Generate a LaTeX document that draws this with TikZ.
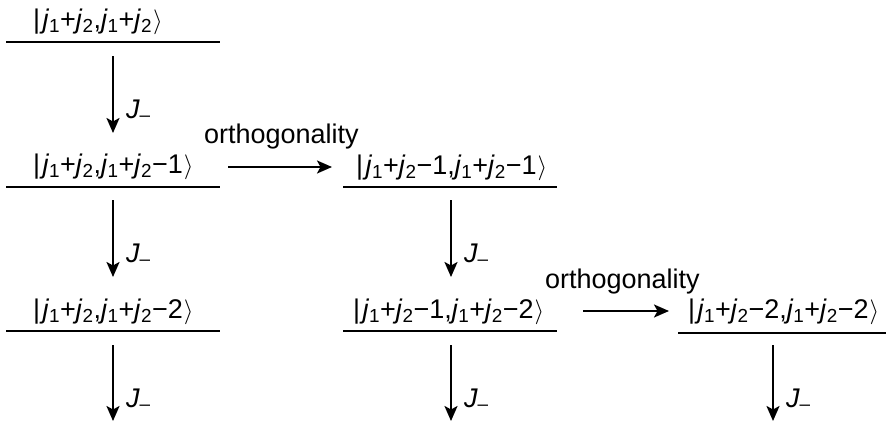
\documentclass[tikz,border=0pt]{standalone}
\usepackage{fontspec}
\setmainfont{Liberation Sans}
\usetikzlibrary{arrows.meta}
\newcommand{\jj}[1]{\textit{j}\textsubscript{#1}}
\newcommand{\ket}[1]{\textbar\kern2.5pt#1\kern1pt$\rangle$}
\begin{document}
\begin{tikzpicture}[x=1pt,y=-1pt,
  every node/.style={inner sep=0pt,outer sep=0pt,font=\fontsize{27}{32}\selectfont},
  lvl/.style={line width=2.7pt},
  arr/.style={line width=2.2pt,-{Stealth[length=15pt,width=13pt,inset=3.5pt]}},
  lab/.style={anchor=base west},
  jm/.style={anchor=base west}]
\useasboundingbox (0,0) rectangle (886,423);
% level lines
\coordinate (l1a) at (6,42);   \coordinate (l1b) at (220,42);
\coordinate (l2a) at (6,187);  \coordinate (l2b) at (220,187);
\coordinate (l3a) at (6,331);  \coordinate (l3b) at (220,331);
\coordinate (m2a) at (343,187); \coordinate (m2b) at (557,187);
\coordinate (m3a) at (343,331); \coordinate (m3b) at (557,331);
\coordinate (r3a) at (678,333); \coordinate (r3b) at (892,333);
\draw[lvl] (l1a) -- (l1b);
\draw[lvl] (l2a) -- (l2b);
\draw[lvl] (l3a) -- (l3b);
\draw[lvl] (m2a) -- (m2b);
\draw[lvl] (m3a) -- (m3b);
\draw[lvl] (r3a) -- (r3b);
% state labels
\node[lab] (s1) at (33,28) {\ket{\jj{1}+\jj{2},\jj{1}+\jj{2}}};
\node[lab] (s2) at (33,173) {\ket{\jj{1}+\jj{2},\jj{1}+\jj{2}−1}};
\node[lab] (s3) at (33,318) {\ket{\jj{1}+\jj{2},\jj{1}+\jj{2}−2}};
\node[lab] (t2) at (356,174) {\ket{\jj{1}+\jj{2}−1,\jj{1}+\jj{2}−1}};
\node[lab] (t3) at (353,318) {\ket{\jj{1}+\jj{2}−1,\jj{1}+\jj{2}−2}};
\node[lab] (u3) at (688,318) {\ket{\jj{1}+\jj{2}−2,\jj{1}+\jj{2}−2}};
% vertical arrows
\coordinate (a1s) at (113,56);  \coordinate (a1e) at (113,133);
\coordinate (a2s) at (113,200); \coordinate (a2e) at (113,277);
\coordinate (a3s) at (113,345); \coordinate (a3e) at (113,421);
\coordinate (b2s) at (451,200); \coordinate (b2e) at (451,277);
\coordinate (b3s) at (451,345); \coordinate (b3e) at (451,421);
\coordinate (c3s) at (773,345); \coordinate (c3e) at (773,421);
\foreach \p in {a1,a2,a3,b2,b3,c3}{\draw[arr] (\p s) -- (\p e);}
\node[jm] (j1) at (126,118) {\textit{J}\textsubscript{–}};
\node[jm] (j2) at (126,262) {\textit{J}\textsubscript{–}};
\node[jm] (j3) at (126,407) {\textit{J}\textsubscript{–}};
\node[jm] (j4) at (464,262) {\textit{J}\textsubscript{–}};
\node[jm] (j5) at (464,407) {\textit{J}\textsubscript{–}};
\node[jm] (j6) at (786,407) {\textit{J}\textsubscript{–}};
% horizontal arrows
\coordinate (h1s) at (228,167); \coordinate (h1e) at (332,167);
\coordinate (h2s) at (583,311); \coordinate (h2e) at (669,311);
\draw[arr] (h1s) -- (h1e);
\draw[arr] (h2s) -- (h2e);
\node[lab] (o1) at (204,143) {orthogonality};
\node[lab] (o2) at (545,288) {orthogonality};
\end{tikzpicture}
\end{document}
